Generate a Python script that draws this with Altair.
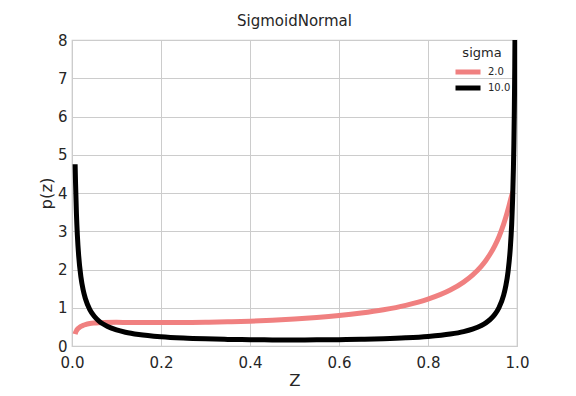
import altair as alt
import pandas as pd

# sigma = 2.0 curve
z_s2 = [0.007, 0.008, 0.010, 0.012, 0.015, 0.020, 0.025, 0.030, 0.040, 0.050,
        0.060, 0.070, 0.100, 0.150, 0.200, 0.250, 0.300, 0.350, 0.400, 0.450,
        0.500, 0.550, 0.600, 0.650, 0.700, 0.750, 0.800, 0.850, 0.880, 0.900,
        0.920, 0.930, 0.940, 0.950, 0.960, 0.970, 0.975, 0.980, 0.985, 0.988,
        0.990, 0.992, 0.993]
p_s2 = [0.31, 0.350, 0.400, 0.434, 0.469, 0.511, 0.540, 0.560, 0.586, 0.600,
        0.609, 0.613, 0.618, 0.614, 0.612, 0.614, 0.620, 0.632, 0.649, 0.673,
        0.704, 0.744, 0.795, 0.861, 0.947, 1.063, 1.224, 1.462, 1.670, 1.853,
        2.090, 2.237, 2.410, 2.618, 2.871, 3.186, 3.371, 3.577, 3.800, 3.931,
        4.006, 4.056, 4.064]

# sigma = 10.0 curve
z_s10 = [0.007, 0.008, 0.010, 0.012, 0.015, 0.020, 0.025, 0.030, 0.040, 0.050,
         0.060, 0.070, 0.080, 0.100, 0.120, 0.150, 0.200, 0.250, 0.300, 0.350,
         0.400, 0.450, 0.500, 0.550, 0.600, 0.650, 0.700, 0.750, 0.800, 0.850,
         0.880, 0.900, 0.920, 0.930, 0.940, 0.950, 0.960, 0.970, 0.975, 0.980,
         0.985, 0.988, 0.990, 0.992, 0.993, 0.994, 0.995, 0.996]
p_s10 = [4.75, 4.244, 3.446, 2.907, 2.360, 1.806, 1.468, 1.240, 0.952, 0.777,
         0.659, 0.575, 0.511, 0.421, 0.361, 0.301, 0.242, 0.208, 0.187, 0.173,
         0.165, 0.160, 0.159, 0.161, 0.166, 0.175, 0.190, 0.213, 0.249, 0.312,
         0.376, 0.440, 0.536, 0.605, 0.697, 0.824, 1.015, 1.329, 1.580, 1.952,
         2.566, 3.175, 3.778, 4.673, 5.307, 6.147, 7.310, 9.040]

sigma_labels = ["2.0", "10.0"]
colors = ["#F08080", "#000000"]
x_ticks = [0.0, 0.2, 0.4, 0.6, 0.8, 1.0]
y_ticks = [0, 1, 2, 3, 4, 5, 6, 7, 8]

rows = []
for i, (zs, ps) in enumerate([(z_s2, p_s2), (z_s10, p_s10)]):
    for j, (z, p) in enumerate(zip(zs, ps)):
        rows.append({"z": z, "p": p, "sigma": sigma_labels[i], "order": j})
df = pd.DataFrame(rows)

FONT = "DejaVu Sans"
TXT = "#262626"

chart = alt.Chart(df).mark_line(strokeWidth=5, clip=True, interpolate="monotone").encode(
    x=alt.X("z:Q", title="Z",
            scale=alt.Scale(domain=[0, 1], nice=False, zero=False),
            axis=alt.Axis(values=x_ticks, format=".1f", labelFlush=False,
                          labelOverlap=False, titlePadding=2, labelPadding=9)),
    y=alt.Y("p:Q", title="p(z)",
            scale=alt.Scale(domain=[0, 8], nice=False),
            axis=alt.Axis(values=y_ticks, format="d", labelPadding=5,
                          titlePadding=3)),
    color=alt.Color("sigma:N",
                    scale=alt.Scale(domain=sigma_labels, range=colors),
                    legend=alt.Legend(title="sigma", orient="none", legendX=381,
                                      legendY=7, symbolType="stroke",
                                      symbolSize=625, symbolStrokeWidth=5,
                                      labelFontSize=10, titleFontSize=13,
                                      titleFontWeight="normal", titleAnchor="middle",
                                      labelColor=TXT, titleColor=TXT,
                                      labelFont=FONT, titleFont=FONT,
                                      labelOffset=5, clipHeight=16, rowPadding=0,
                                      titlePadding=4)),
    order="order:Q",
).properties(
    width=445, height=306,
    title=alt.TitleParams("SigmoidNormal", fontSize=15, font=FONT,
                          fontWeight="normal", color=TXT, offset=4),
    autosize=alt.AutoSizeParams(type="none"),
    padding={"left": 64, "top": 32, "right": 40, "bottom": 48},
).configure_view(
    stroke="#cccccc", strokeWidth=1.25
).configure_axis(
    grid=True, gridColor="#cccccc", gridWidth=1, domain=False, ticks=False,
    labelFont=FONT, labelFontSize=15, labelColor=TXT,
    titleFont=FONT, titleFontSize=16.5, titleColor=TXT, titleFontWeight="normal",
)

chart.save("out.html", embed_options={"renderer": "svg", "actions": False})
